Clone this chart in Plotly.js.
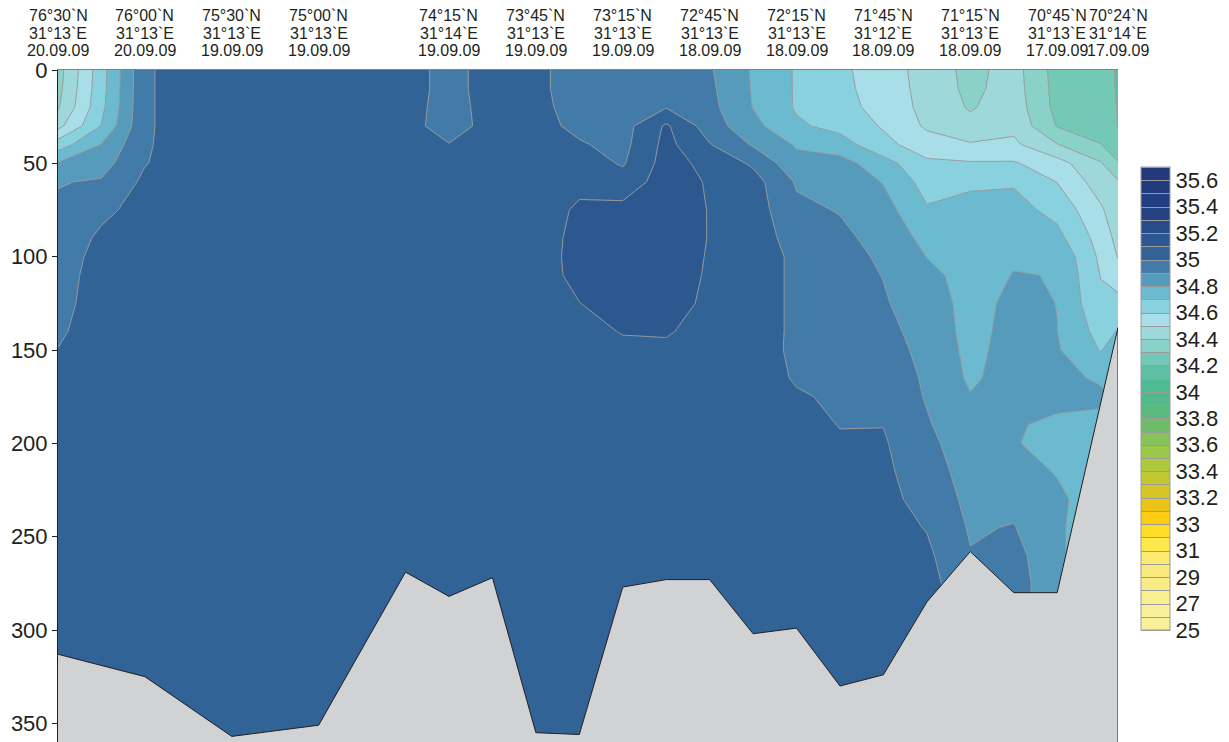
<!DOCTYPE html>
<html>
<head>
<meta charset="utf-8">
<script src="https://cdn.plot.ly/plotly-3.0.1.min.js"></script>
<style>
html,body{margin:0;padding:0;background:#ffffff;}
#chart{width:1229px;height:742px;}
</style>
</head>
<body>
<div id="chart"></div>
<script>
// ---- Stations (top labels) ----
const stationLat = [76.5, 76.0, 75.5, 75.0, 74.25, 73.75, 73.25, 72.75, 72.25, 71.75, 71.25, 70.75, 70.4];
const stationLatLabel = ["76°30`N","76°00`N","75°30`N","75°00`N","74°15`N","73°45`N","73°15`N","72°45`N","72°15`N","71°45`N","71°15`N","70°45`N","70°24`N"];
const stationLonLabel = ["31°13`E","31°13`E","31°13`E","31°13`E","31°14`E","31°13`E","31°13`E","31°13`E","31°13`E","31°12`E","31°13`E","31°13`E","31°14`E"];
const stationDate = ["20.09.09","20.09.09","19.09.09","19.09.09","19.09.09","19.09.09","19.09.09","18.09.09","18.09.09","18.09.09","18.09.09","17.09.09","17.09.09"];

// ---- Salinity grid (latitude columns x depth rows) ----
const gridLat = [76.5, 76.25, 76.0, 75.75, 74.5, 74.25, 74.0, 73.75, 73.5, 73.25, 73.0, 72.75, 72.5, 72.25, 72.0, 71.75, 71.5, 71.25, 71.0, 70.75, 70.5, 70.4];
const gridDepth = [0, 10, 20, 30, 40, 50, 60, 75, 90, 100, 110, 125, 140, 150, 165, 175, 190, 200, 215, 230, 245, 260, 275, 290, 310, 330, 360];
const salinity = [
 [34.36, 34.66, 34.985, 35.05, 35.05, 34.96, 35.05, 35.02, 34.96, 34.95, 34.95, 34.91, 34.79, 34.69, 34.62, 34.55, 34.46, 34.37, 34.44, 34.26, 34.22, 34.195],
 [34.37, 34.665, 34.985, 35.05, 35.05, 34.96, 35.05, 35.02, 34.96, 34.95, 34.96, 34.92, 34.792, 34.69, 34.625, 34.555, 34.465, 34.375, 34.445, 34.265, 34.225, 34.195],
 [34.39, 34.675, 34.985, 35.05, 35.05, 34.95, 35.05, 35.025, 34.965, 34.955, 34.995, 34.93, 34.797, 34.69, 34.635, 34.565, 34.47, 34.39, 34.455, 34.27, 34.24, 34.197],
 [34.47, 34.705, 34.985, 35.05, 35.05, 34.94, 35.05, 35.035, 34.975, 34.96, 35.115, 34.95, 34.83, 34.715, 34.67, 34.59, 34.485, 34.43, 34.475, 34.295, 34.27, 34.198],
 [34.65, 34.805, 34.988, 35.05, 35.05, 35.005, 35.05, 35.05, 35.01, 34.97, 35.13, 35.005, 34.89, 34.79, 34.745, 34.63, 34.545, 34.51, 34.52, 34.405, 34.302, 34.26],
 [34.81, 34.86, 34.995, 35.05, 35.05, 35.05, 35.05, 35.05, 35.05, 34.99, 35.14, 35.07, 34.985, 34.83, 34.84, 34.74, 34.62, 34.61, 34.61, 34.54, 34.41, 34.305],
 [34.895, 34.91, 35.02, 35.05, 35.05, 35.05, 35.05, 35.05, 35.075, 35.04, 35.15, 35.09, 35.04, 34.89, 34.87, 34.795, 34.66, 34.69, 34.69, 34.598, 34.45, 34.41],
 [34.915, 34.975, 35.04, 35.05, 35.05, 35.05, 35.05, 35.05, 35.115, 35.13, 35.165, 35.095, 35.05, 34.92, 34.895, 34.84, 34.71, 34.72, 34.735, 34.67, 34.515, 34.44],
 [34.93, 35.02, 35.05, 35.05, 35.05, 35.05, 35.05, 35.05, 35.13, 35.16, 35.17, 35.095, 35.05, 34.96, 34.92, 34.87, 34.77, 34.745, 34.77, 34.73, 34.56, 34.47],
 [34.94, 35.04, 35.05, 35.05, 35.05, 35.05, 35.05, 35.05, 35.135, 35.17, 35.17, 35.09, 35.05, 34.98, 34.935, 34.885, 34.798, 34.76, 34.79, 34.785, 34.58, 34.495],
 [34.95, 35.05, 35.05, 35.05, 35.05, 35.05, 35.05, 35.05, 35.13, 35.17, 35.165, 35.085, 35.05, 34.98, 34.945, 34.897, 34.825, 34.765, 34.803, 34.798, 34.597, 34.545],
 [34.965, 35.05, 35.05, 35.05, 35.05, 35.05, 35.05, 35.05, 35.098, 35.15, 35.15, 35.075, 35.05, 34.98, 34.955, 34.91, 34.845, 34.77, 34.82, 34.799, 34.62, 34.635],
 [34.985, 35.05, 35.05, 35.05, 35.05, 35.05, 35.05, 35.05, 35.07, 35.105, 35.11, 35.06, 35.05, 34.98, 34.965, 34.93, 34.86, 34.77, 34.83, 34.801, 34.665, 34.705],
 [35.002, 35.05, 35.05, 35.05, 35.05, 35.05, 35.05, 35.05, 35.06, 35.08, 35.08, 35.055, 35.05, 34.978, 34.97, 34.945, 34.87, 34.775, 34.835, 34.81, 34.695, 34.74],
 [35.03, 35.05, 35.05, 35.05, 35.05, 35.05, 35.05, 35.05, 35.05, 35.06, 35.06, 35.05, 35.05, 34.99, 34.98, 34.965, 34.885, 34.785, 34.84, 34.82, 34.79, 34.77],
 [35.04, 35.05, 35.05, 35.05, 35.05, 35.05, 35.05, 35.05, 35.05, 35.05, 35.05, 35.05, 35.05, 35.01, 34.985, 34.975, 34.892, 34.805, 34.83, 34.815, 34.815, 34.78],
 [35.05, 35.05, 35.05, 35.05, 35.05, 35.05, 35.05, 35.05, 35.05, 35.05, 35.05, 35.05, 35.05, 35.03, 34.997, 34.998, 34.91, 34.83, 34.805, 34.79, 34.78, 34.76],
 [35.05, 35.05, 35.05, 35.05, 35.05, 35.05, 35.05, 35.05, 35.05, 35.05, 35.05, 35.05, 35.05, 35.04, 35.01, 35.01, 34.925, 34.845, 34.805, 34.775, 34.77, 34.76],
 [35.05, 35.05, 35.05, 35.05, 35.05, 35.05, 35.05, 35.05, 35.05, 35.05, 35.05, 35.05, 35.05, 35.05, 35.03, 35.02, 34.945, 34.86, 34.83, 34.795, 34.76, 34.76],
 [35.05, 35.05, 35.05, 35.05, 35.05, 35.05, 35.05, 35.05, 35.05, 35.05, 35.05, 35.05, 35.05, 35.05, 35.04, 35.03, 34.965, 34.875, 34.87, 34.815, 34.76, 34.76],
 [35.05, 35.05, 35.05, 35.05, 35.05, 35.05, 35.05, 35.05, 35.05, 35.05, 35.05, 35.05, 35.05, 35.05, 35.05, 35.04, 34.995, 34.89, 34.905, 34.81, 34.76, 34.76],
 [35.05, 35.05, 35.05, 35.05, 35.05, 35.05, 35.05, 35.05, 35.05, 35.05, 35.05, 35.05, 35.05, 35.05, 35.05, 35.05, 35.02, 34.905, 34.94, 34.81, 34.76, 34.76],
 [35.05, 35.05, 35.05, 35.05, 35.05, 35.05, 35.05, 35.05, 35.05, 35.05, 35.05, 35.05, 35.05, 35.05, 35.05, 35.05, 35.04, 34.92, 34.96, 34.81, 34.76, 34.76],
 [35.05, 35.05, 35.05, 35.05, 35.05, 35.05, 35.05, 35.05, 35.05, 35.05, 35.05, 35.05, 35.05, 35.05, 35.05, 35.05, 35.05, 34.93, 34.96, 34.81, 34.76, 34.76],
 [35.05, 35.05, 35.05, 35.05, 35.05, 35.05, 35.05, 35.05, 35.05, 35.05, 35.05, 35.05, 35.05, 35.05, 35.05, 35.05, 35.05, 34.93, 34.96, 34.81, 34.76, 34.76],
 [35.05, 35.05, 35.05, 35.05, 35.05, 35.05, 35.05, 35.05, 35.05, 35.05, 35.05, 35.05, 35.05, 35.05, 35.05, 35.05, 35.05, 34.93, 34.96, 34.81, 34.76, 34.76],
 [35.05, 35.05, 35.05, 35.05, 35.05, 35.05, 35.05, 35.05, 35.05, 35.05, 35.05, 35.05, 35.05, 35.05, 35.05, 35.05, 35.05, 34.93, 34.96, 34.81, 34.76, 34.76]
];

// ---- Bottom topography ----
const bottomLat = [76.5, 76.0, 75.5, 75.0, 74.5, 74.25, 74.0, 73.75, 73.5, 73.25, 73.0, 72.75, 72.5, 72.25, 72.0, 71.75, 71.5, 71.25, 71.0, 70.75, 70.4];
const bottomDepth = [313, 325, 357, 351, 269, 282, 272, 355, 356, 277, 273, 273, 302, 299, 330, 324, 285, 258, 280, 280, 138];

// ---- Colour levels (boundaries) and band colours, bottom to top ----
const levelBounds = [25,26,27,28,29,30,31,32,33,33.1,33.2,33.3,33.4,33.5,33.6,33.7,33.8,33.9,34,34.1,34.2,34.3,34.4,34.5,34.6,34.7,34.8,34.9,35,35.1,35.2,35.3,35.4,35.5,35.6,35.7];
const bandColors = ["#faf19d","#f9ef95","#f9ed8c","#f9eb84","#f9e979","#faea6a","#fee83f","#fdd81d","#fec80b","#e7c31b","#d2c52a","#bdc632","#aac93e","#97c84b","#84c25a","#6dbc6b","#5cb97c","#52b98a","#4cbc94","#5dbfa3","#72c7b4","#88d0c6","#9bd7d7","#ade0e9","#90d5e1","#70c1d5","#5ba3c1","#4a84ae","#336699","#2e5b91","#294f8a","#244687","#223f83","#223c80","#24397b"];
const colorbarLabels = ["25","27","29","31","33","33.2","33.4","33.6","33.8","34","34.2","34.4","34.6","34.8","35","35.2","35.4","35.6"];

const depthRange = [0, 360];
const latRange = [76.5, 70.4];

// map salinity to level index (equal-width colour bands for non-uniform levels)
function toLevel(s) {
  for (let i = 0; i < levelBounds.length - 1; i++) {
    const a = levelBounds[i], b = levelBounds[i + 1];
    if (s <= b || i === levelBounds.length - 2) return i + (s - a) / (b - a);
  }
}
const levelZ = salinity.map(row => row.map(toLevel));
const nBands = bandColors.length;
const colorscale = [[0, bandColors[0]]];
for (let k = 0; k < nBands; k++) colorscale.push([(k + 1) / (nBands + 1), bandColors[k]]);
colorscale.push([1, bandColors[nBands - 1]]);

const textColor = '#231f20';
const fontFam = 'Liberation Sans, Arial, sans-serif';

const contour = {
  type: 'contour',
  x: gridLat, y: gridDepth, z: levelZ,
  autocontour: false,
  contours: {start: 0, end: nBands, size: 1, coloring: 'fill', showlines: true},
  line: {color: '#9b9b9b', width: 1, smoothing: 0},
  colorscale: colorscale,
  zmin: 0, zmax: nBands,
  hoverinfo: 'skip',
  colorbar: {
    thickness: 29, thicknessmode: 'pixels',
    len: 463, lenmode: 'pixels',
    x: 1.0217, xanchor: 'left', y: 0.5112, yanchor: 'middle',
    xpad: 0, ypad: 0,
    outlinewidth: 1, outlinecolor: '#9b9b9b',
    tickmode: 'array',
    tickvals: colorbarLabels.map(v => toLevel(parseFloat(v))),
    ticktext: colorbarLabels,
    ticks: '',
    tickfont: {family: fontFam, size: 22, color: textColor}
  }
};

const seabed = {
  type: 'scatter', mode: 'lines',
  x: bottomLat.concat([bottomLat[bottomLat.length - 1], bottomLat[0]]),
  y: bottomDepth.concat([depthRange[1] + 20, depthRange[1] + 20]),
  fill: 'toself', fillcolor: '#d1d2d4',
  line: {color: '#231f20', width: 1},
  hoverinfo: 'skip', showlegend: false
};

const annotations = [];
const rowY = [1.0804, 1.0536, 1.0283];
const rows = [stationLatLabel, stationLonLabel, stationDate];
rows.forEach((labels, r) => {
  labels.forEach((t, i) => {
    annotations.push({
      x: stationLat[i], xref: 'x', y: rowY[r], yref: 'paper',
      text: t, showarrow: false, xanchor: 'center', yanchor: 'middle',
      borderpad: 0,
      font: {family: fontFam, size: 16, color: textColor}
    });
  });
});

const yTicks = [0, 50, 100, 150, 200, 250, 300, 350];

const layout = {
  width: 1229, height: 742,
  margin: {l: 58, r: 111, t: 70, b: 0, pad: 0},
  paper_bgcolor: '#ffffff', plot_bgcolor: '#ffffff',
  showlegend: false,
  xaxis: {
    range: latRange, side: 'top', showline: true, linecolor: '#808285', linewidth: 1.5,
    ticks: '', showticklabels: false, showgrid: false, zeroline: false, fixedrange: true
  },
  yaxis: {
    range: [depthRange[1], depthRange[0]], showline: true, linecolor: textColor, linewidth: 1,
    ticks: 'outside', ticklen: 5, tickwidth: 1, tickcolor: textColor,
    tickmode: 'array', tickvals: yTicks,
    tickfont: {family: fontFam, size: 22, color: textColor},
    showgrid: false, zeroline: false, fixedrange: true
  },
  yaxis2: {
    range: [depthRange[1], depthRange[0]], overlaying: 'y', side: 'right', anchor: 'x',
    showline: true, linecolor: textColor, linewidth: 1,
    ticks: 'inside', ticklen: 5, tickwidth: 1, tickcolor: textColor,
    tickmode: 'array', tickvals: yTicks, showticklabels: false,
    showgrid: false, zeroline: false, fixedrange: true
  },
  annotations: annotations
};

Plotly.newPlot('chart', [contour, seabed], layout, {staticPlot: true, displayModeBar: false});
</script>
</body>
</html>
